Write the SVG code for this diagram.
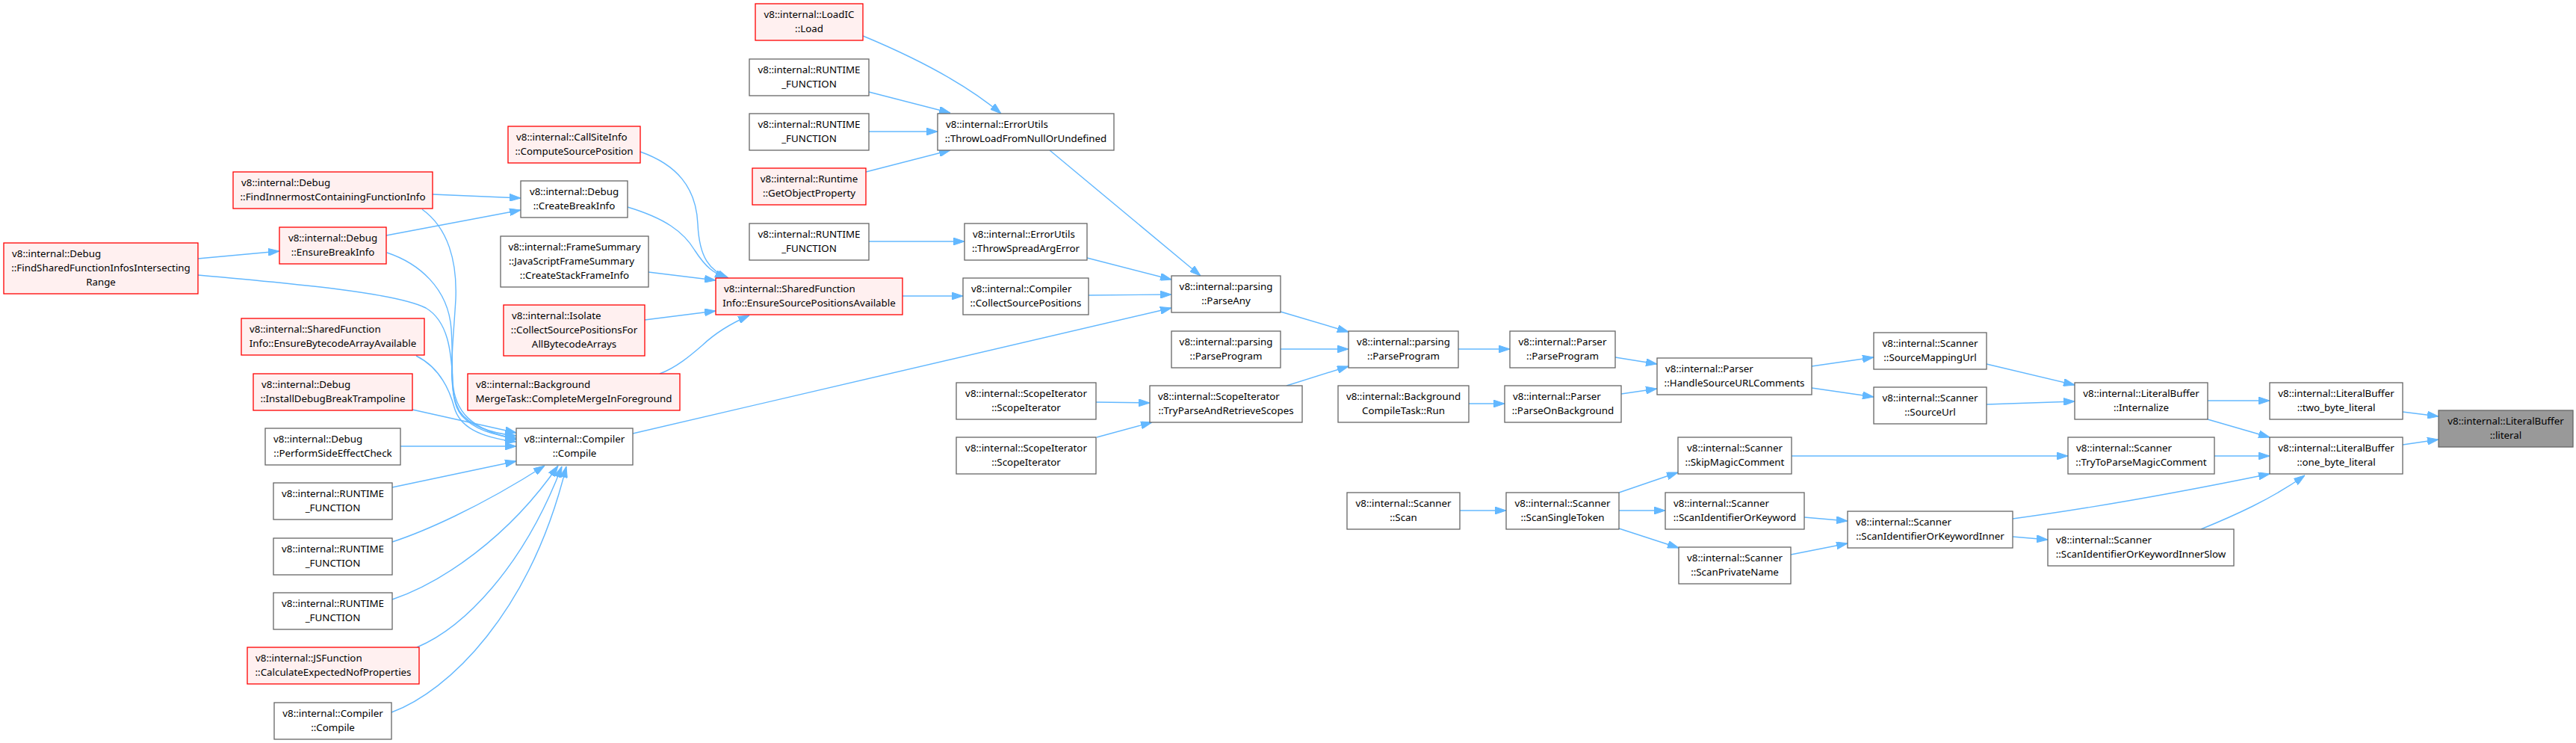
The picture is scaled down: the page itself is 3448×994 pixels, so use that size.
<svg xmlns="http://www.w3.org/2000/svg" width="3448" height="994" viewBox="0 0 3448 994">
<style>
text{font-family:"Noto Sans","Open Sans","Liberation Sans",sans-serif;font-size:13.33px;fill:#000}
.c{text-anchor:middle}
.s{text-anchor:start}
.n rect{fill:#fff;stroke:#666;stroke-width:1.3}
.r rect{fill:#FFF0F0;stroke:#F00;stroke-width:1.3}
.h rect{fill:#999;stroke:#666;stroke-width:1.3}
#edges path{fill:none;stroke:#63B8FF;stroke-width:1.4;marker-end:url(#a)}
</style>
<defs>
<marker id="a" markerWidth="15" markerHeight="10" refX="15" refY="5" orient="auto" markerUnits="userSpaceOnUse"><path d="M0,0 L15,5 L0,10 z" fill="#63B8FF" stroke="#63B8FF" stroke-width="1"/></marker>
</defs>
<rect width="3448" height="994" fill="#fff"/>
<g id="edges">
<path d="M3216,551 L3264,557"/>
<path d="M3216,595 L3264,588"/>
<path d="M2955,536 L3038,536"/>
<path d="M2955,561 L3038,585"/>
<path d="M2964,610 L3038,610"/>
<path d="M2694,694 C2820,677 2950,652 3038,634"/>
<path d="M2946,708 C2990,690 3040,668 3085,636"/>
<path d="M2659,487 L2777,515"/>
<path d="M2659,541 L2777,537"/>
<path d="M2398,610 L2768,610"/>
<path d="M2415,692 L2473,697"/>
<path d="M2397,742 L2473,727"/>
<path d="M2694,718 L2741,722"/>
<path d="M2425,490 L2508,478"/>
<path d="M2425,519 L2508,531"/>
<path d="M1952,467 L2021,467"/>
<path d="M2162,478 L2218,487"/>
<path d="M2170,527 L2218,520"/>
<path d="M1966,540 L2014,540"/>
<path d="M1954,683 L2016,683"/>
<path d="M2167,659 L2246,632"/>
<path d="M2167,683 L2229,683"/>
<path d="M2167,707 L2247,733"/>
<path d="M1714,417 L1805,444"/>
<path d="M1714,467 L1805,467"/>
<path d="M1722,516 L1805,490"/>
<path d="M1467,538 L1539,539"/>
<path d="M1468,585 L1542,565"/>
<path d="M1405,201 L1607,369"/>
<path d="M1455,345 L1568,374"/>
<path d="M1457,395 L1568,394"/>
<path d="M847,580 L1568,412"/>
<path d="M1155,48 C1220,75 1290,110 1340,152"/>
<path d="M1163,123 L1272,151"/>
<path d="M1163,176 L1255,176"/>
<path d="M1159,230 L1272,201"/>
<path d="M1163,323 L1291,323"/>
<path d="M1208,396 L1289,396"/>
<path d="M857,203 C905,220 932,250 934,300 C936,345 950,362 975,372"/>
<path d="M840,277 C890,292 915,310 930,335 C945,358 955,365 972,372"/>
<path d="M868,364 L958,375"/>
<path d="M863,428 L958,416"/>
<path d="M883,500 C905,492 925,475 940,462 C960,443 980,432 1003,422"/>
<path d="M579,260 L697,265"/>
<path d="M517,315 L697,281"/>
<path d="M265,346 L374,336"/>
<path d="M565,280 C600,305 612,350 610,400 C606,470 598,520 615,550 C630,572 660,580 691,583"/>
<path d="M518,338 C560,352 600,385 604,440 C608,500 600,535 618,556 C635,575 660,582 691,586"/>
<path d="M265,368 C400,380 530,392 570,412 C600,430 604,470 606,510 C608,550 630,575 691,588"/>
<path d="M557,476 C585,490 600,515 608,545 C615,570 640,585 691,591"/>
<path d="M552,548 L691,579"/>
<path d="M536,597 L691,597"/>
<path d="M525,652 L691,617"/>
<path d="M525,725 C565,712 640,680 729,623"/>
<path d="M525,802 C590,780 680,720 747,623"/>
<path d="M558,866 C620,840 700,760 752,624"/>
<path d="M524,953 C600,925 710,820 758,624"/>
</g>
<g id="n_literal" class="h"><rect x="3264" y="549" width="180" height="49"/><text class="c" x="3354" y="567.5">v8::internal::LiteralBuffer</text><text class="c" x="3354" y="586.5">::literal</text></g>
<g id="n_two_byte" class="n"><rect x="3038" y="512" width="178" height="49"/><text class="c" x="3127" y="530.5">v8::internal::LiteralBuffer</text><text class="c" x="3127" y="549.5">::two_byte_literal</text></g>
<g id="n_one_byte" class="n"><rect x="3038" y="585" width="178" height="49"/><text class="c" x="3127" y="603.5">v8::internal::LiteralBuffer</text><text class="c" x="3127" y="622.5">::one_byte_literal</text></g>
<g id="n_internalize" class="n"><rect x="2777" y="512" width="178" height="49"/><text class="c" x="2866" y="530.5">v8::internal::LiteralBuffer</text><text class="c" x="2866" y="549.5">::Internalize</text></g>
<g id="n_trytoparse" class="n"><rect x="2768" y="585" width="196" height="49"/><text class="s" x="2779" y="603.5">v8::internal::Scanner</text><text class="c" x="2866" y="622.5">::TryToParseMagicComment</text></g>
<g id="n_inner" class="n"><rect x="2473" y="684" width="221" height="49"/><text class="s" x="2484" y="702.5">v8::internal::Scanner</text><text class="c" x="2583.5" y="721.5">::ScanIdentifierOrKeywordInner</text></g>
<g id="n_innerslow" class="n"><rect x="2741" y="708" width="249" height="49"/><text class="s" x="2752" y="726.5">v8::internal::Scanner</text><text class="c" x="2865.5" y="745.5">::ScanIdentifierOrKeywordInnerSlow</text></g>
<g id="n_srcmap" class="n"><rect x="2508" y="445" width="151" height="49"/><text class="c" x="2583.5" y="463.5">v8::internal::Scanner</text><text class="c" x="2583.5" y="482.5">::SourceMappingUrl</text></g>
<g id="n_srcurl" class="n"><rect x="2508" y="518" width="151" height="49"/><text class="c" x="2583.5" y="536.5">v8::internal::Scanner</text><text class="c" x="2583.5" y="555.5">::SourceUrl</text></g>
<g id="n_handle" class="n"><rect x="2218" y="479" width="207" height="49"/><text class="s" x="2229" y="497.5">v8::internal::Parser</text><text class="c" x="2321.5" y="516.5">::HandleSourceURLComments</text></g>
<g id="n_skipmagic" class="n"><rect x="2246" y="585" width="152" height="49"/><text class="c" x="2322" y="603.5">v8::internal::Scanner</text><text class="c" x="2322" y="622.5">::SkipMagicComment</text></g>
<g id="n_scanident" class="n"><rect x="2229" y="659" width="186" height="49"/><text class="s" x="2240" y="677.5">v8::internal::Scanner</text><text class="c" x="2322" y="696.5">::ScanIdentifierOrKeyword</text></g>
<g id="n_scanpriv" class="n"><rect x="2247" y="732" width="150" height="49"/><text class="c" x="2322" y="750.5">v8::internal::Scanner</text><text class="c" x="2322" y="769.5">::ScanPrivateName</text></g>
<g id="n_parser_pp" class="n"><rect x="2021" y="443" width="141" height="49"/><text class="c" x="2091.5" y="461.5">v8::internal::Parser</text><text class="c" x="2091.5" y="480.5">::ParseProgram</text></g>
<g id="n_parsebg" class="n"><rect x="2014" y="516" width="156" height="49"/><text class="s" x="2025" y="534.5">v8::internal::Parser</text><text class="c" x="2092" y="553.5">::ParseOnBackground</text></g>
<g id="n_singletok" class="n"><rect x="2016" y="659" width="151" height="49"/><text class="c" x="2091.5" y="677.5">v8::internal::Scanner</text><text class="c" x="2091.5" y="696.5">::ScanSingleToken</text></g>
<g id="n_parsing_pp" class="n"><rect x="1805" y="443" width="147" height="49"/><text class="c" x="1878.5" y="461.5">v8::internal::parsing</text><text class="c" x="1878.5" y="480.5">::ParseProgram</text></g>
<g id="n_bgrun" class="n"><rect x="1791" y="516" width="175" height="49"/><text class="c" x="1878.5" y="534.5">v8::internal::Background</text><text class="c" x="1878.5" y="553.5">CompileTask::Run</text></g>
<g id="n_scan" class="n"><rect x="1803" y="659" width="151" height="49"/><text class="c" x="1878.5" y="677.5">v8::internal::Scanner</text><text class="c" x="1878.5" y="696.5">::Scan</text></g>
<g id="n_parseany" class="n"><rect x="1568" y="369" width="146" height="49"/><text class="c" x="1641" y="387.5">v8::internal::parsing</text><text class="c" x="1641" y="406.5">::ParseAny</text></g>
<g id="n_parsing_pp1" class="n"><rect x="1568" y="443" width="146" height="49"/><text class="c" x="1641" y="461.5">v8::internal::parsing</text><text class="c" x="1641" y="480.5">::ParseProgram</text></g>
<g id="n_tryparse" class="n"><rect x="1539" y="516" width="204" height="49"/><text class="s" x="1550" y="534.5">v8::internal::ScopeIterator</text><text class="c" x="1641" y="553.5">::TryParseAndRetrieveScopes</text></g>
<g id="n_scopeit1" class="n"><rect x="1280" y="512" width="187" height="49"/><text class="c" x="1373.5" y="530.5">v8::internal::ScopeIterator</text><text class="c" x="1373.5" y="549.5">::ScopeIterator</text></g>
<g id="n_scopeit2" class="n"><rect x="1280" y="585" width="187" height="49"/><text class="c" x="1373.5" y="603.5">v8::internal::ScopeIterator</text><text class="c" x="1373.5" y="622.5">::ScopeIterator</text></g>
<g id="n_throwload" class="n"><rect x="1255" y="152" width="236" height="49"/><text class="s" x="1266" y="170.5">v8::internal::ErrorUtils</text><text class="c" x="1373" y="189.5">::ThrowLoadFromNullOrUndefined</text></g>
<g id="n_throwspread" class="n"><rect x="1291" y="299" width="164" height="49"/><text class="s" x="1302" y="317.5">v8::internal::ErrorUtils</text><text class="c" x="1373" y="336.5">::ThrowSpreadArgError</text></g>
<g id="n_collect" class="n"><rect x="1289" y="372" width="168" height="49"/><text class="s" x="1300" y="390.5">v8::internal::Compiler</text><text class="c" x="1373" y="409.5">::CollectSourcePositions</text></g>
<g id="n_loadic" class="r"><rect x="1011" y="5" width="144" height="49"/><text class="c" x="1083" y="23.5">v8::internal::LoadIC</text><text class="c" x="1083" y="42.5">::Load</text></g>
<g id="n_rt1" class="n"><rect x="1003" y="79" width="160" height="49"/><text class="c" x="1083" y="97.5">v8::internal::RUNTIME</text><text class="c" x="1083" y="116.5">_FUNCTION</text></g>
<g id="n_rt2" class="n"><rect x="1003" y="152" width="160" height="49"/><text class="c" x="1083" y="170.5">v8::internal::RUNTIME</text><text class="c" x="1083" y="189.5">_FUNCTION</text></g>
<g id="n_getobj" class="r"><rect x="1007" y="225" width="152" height="49"/><text class="c" x="1083" y="243.5">v8::internal::Runtime</text><text class="c" x="1083" y="262.5">::GetObjectProperty</text></g>
<g id="n_rt3" class="n"><rect x="1003" y="299" width="160" height="49"/><text class="c" x="1083" y="317.5">v8::internal::RUNTIME</text><text class="c" x="1083" y="336.5">_FUNCTION</text></g>
<g id="n_espa" class="r"><rect x="958" y="372" width="250" height="49"/><text class="s" x="969" y="390.5">v8::internal::SharedFunction</text><text class="c" x="1083" y="409.5">Info::EnsureSourcePositionsAvailable</text></g>
<g id="n_callsite" class="r"><rect x="680" y="169" width="177" height="49"/><text class="s" x="691" y="187.5">v8::internal::CallSiteInfo</text><text class="c" x="768.5" y="206.5">::ComputeSourcePosition</text></g>
<g id="n_createbreak" class="n"><rect x="697" y="242" width="143" height="49"/><text class="c" x="768.5" y="260.5">v8::internal::Debug</text><text class="c" x="768.5" y="279.5">::CreateBreakInfo</text></g>
<g id="n_framesum" class="n"><rect x="670" y="316" width="198" height="68"/><text class="c" x="769" y="334.5">v8::internal::FrameSummary</text><text class="s" x="681" y="353.5">::JavaScriptFrameSummary</text><text class="c" x="769" y="372.5">::CreateStackFrameInfo</text></g>
<g id="n_isolate" class="r"><rect x="674" y="408" width="189" height="68"/><text class="s" x="685" y="426.5">v8::internal::Isolate</text><text class="c" x="768.5" y="445.5">::CollectSourcePositionsFor</text><text class="c" x="768.5" y="464.5">AllBytecodeArrays</text></g>
<g id="n_bgmerge" class="r"><rect x="626" y="500" width="284" height="49"/><text class="s" x="637" y="518.5">v8::internal::Background</text><text class="c" x="768" y="537.5">MergeTask::CompleteMergeInForeground</text></g>
<g id="n_compile" class="n"><rect x="691" y="573" width="156" height="49"/><text class="c" x="769" y="591.5">v8::internal::Compiler</text><text class="c" x="769" y="610.5">::Compile</text></g>
<g id="n_findinner" class="r"><rect x="312" y="230" width="267" height="49"/><text class="s" x="323" y="248.5">v8::internal::Debug</text><text class="c" x="445.5" y="267.5">::FindInnermostContainingFunctionInfo</text></g>
<g id="n_ensurebreak" class="r"><rect x="374" y="304" width="143" height="49"/><text class="c" x="445.5" y="322.5">v8::internal::Debug</text><text class="c" x="445.5" y="341.5">::EnsureBreakInfo</text></g>
<g id="n_findshared" class="r"><rect x="5" y="325" width="260" height="68"/><text class="s" x="16" y="343.5">v8::internal::Debug</text><text class="c" x="135" y="362.5">::FindSharedFunctionInfosIntersecting</text><text class="c" x="135" y="381.5">Range</text></g>
<g id="n_ensurebytecode" class="r"><rect x="323" y="426" width="245" height="49"/><text class="s" x="334" y="444.5">v8::internal::SharedFunction</text><text class="c" x="445.5" y="463.5">Info::EnsureBytecodeArrayAvailable</text></g>
<g id="n_installdbg" class="r"><rect x="339" y="500" width="213" height="49"/><text class="s" x="350" y="518.5">v8::internal::Debug</text><text class="c" x="445.5" y="537.5">::InstallDebugBreakTrampoline</text></g>
<g id="n_perfside" class="n"><rect x="355" y="573" width="181" height="49"/><text class="s" x="366" y="591.5">v8::internal::Debug</text><text class="c" x="445.5" y="610.5">::PerformSideEffectCheck</text></g>
<g id="n_rta" class="n"><rect x="366" y="646" width="159" height="49"/><text class="c" x="445.5" y="664.5">v8::internal::RUNTIME</text><text class="c" x="445.5" y="683.5">_FUNCTION</text></g>
<g id="n_rtb" class="n"><rect x="366" y="720" width="159" height="49"/><text class="c" x="445.5" y="738.5">v8::internal::RUNTIME</text><text class="c" x="445.5" y="757.5">_FUNCTION</text></g>
<g id="n_rtc" class="n"><rect x="366" y="793" width="159" height="49"/><text class="c" x="445.5" y="811.5">v8::internal::RUNTIME</text><text class="c" x="445.5" y="830.5">_FUNCTION</text></g>
<g id="n_jsfunc" class="r"><rect x="331" y="866" width="230" height="49"/><text class="s" x="342" y="884.5">v8::internal::JSFunction</text><text class="c" x="446" y="903.5">::CalculateExpectedNofProperties</text></g>
<g id="n_compile2" class="n"><rect x="367" y="940" width="157" height="49"/><text class="c" x="445.5" y="958.5">v8::internal::Compiler</text><text class="c" x="445.5" y="977.5">::Compile</text></g>
</svg>
